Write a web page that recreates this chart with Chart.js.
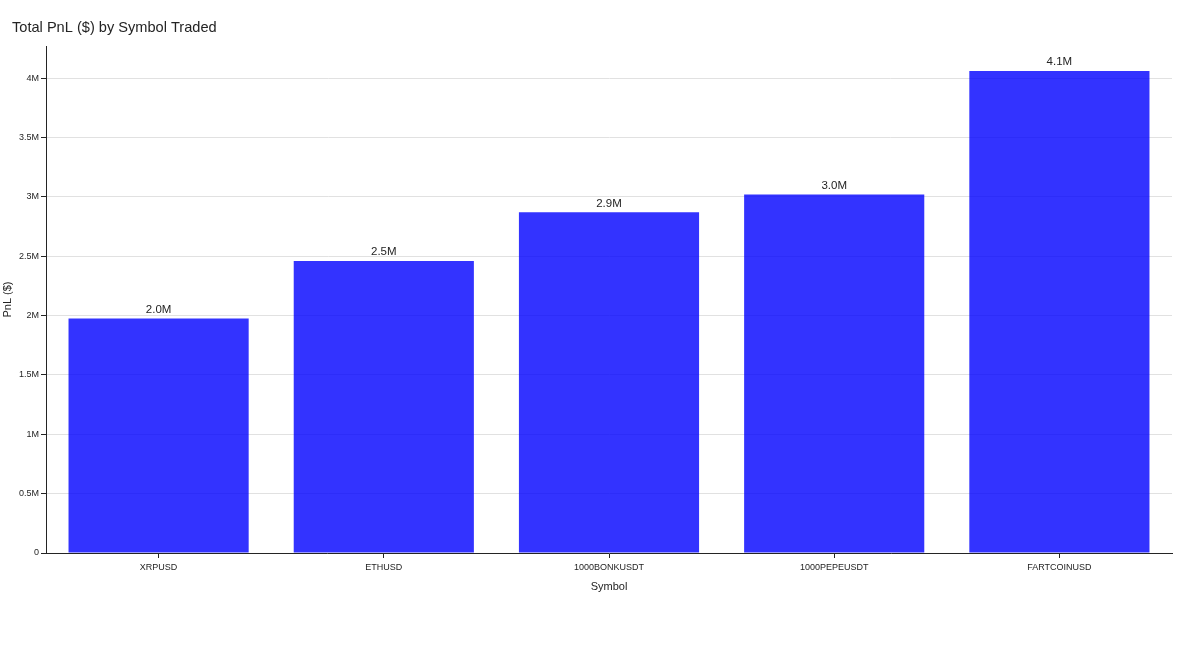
<!DOCTYPE html>
<html>
<head>
<meta charset="utf-8">
<script src="https://cdn.jsdelivr.net/npm/chart.js@4.4.1/dist/chart.umd.min.js"></script>
<style>
html,body{margin:0;padding:0;background:#fff;}
#wrap{width:1200px;height:646px;}
</style>
</head>
<body>
<div id="wrap"><canvas id="c" width="1200" height="646"></canvas></div>
<script>
const categories = ['XRPUSD', 'ETHUSD', '1000BONKUSDT', '1000PEPEUSDT', 'FARTCOINUSD'];
const pnlValues = [1975000, 2460000, 2870000, 3020000, 4060000];
const yTicks = [0, 500000, 1000000, 1500000, 2000000, 2500000, 3000000, 3500000, 4000000];
const yTickLabels = ['0', '0.5M', '1M', '1.5M', '2M', '2.5M', '3M', '3.5M', '4M'];
const yMax = 4270000;
const chartTitle = 'Total PnL ($) by Symbol Traded';
const xTitle = 'Symbol';
const yTitle = 'PnL ($)';

const FONT = '"Liberation Sans", Arial, Helvetica, sans-serif';
const TEXT = '#242424';

const titlePlugin = {
  id: 'leftTitle',
  afterDraw(chart) {
    const ctx = chart.ctx;
    ctx.save();
    ctx.font = '14.6px ' + FONT;
    ctx.fillStyle = TEXT;
    ctx.textAlign = 'left';
    ctx.textBaseline = 'middle';
    ctx.fillText(chartTitle, 12, 28);
    ctx.restore();
  }
};

const barLabelPlugin = {
  id: 'barLabels',
  afterDatasetsDraw(chart) {
    const ctx = chart.ctx;
    const meta = chart.getDatasetMeta(0);
    ctx.save();
    ctx.font = '11.5px ' + FONT;
    ctx.fillStyle = TEXT;
    ctx.textAlign = 'center';
    ctx.textBaseline = 'bottom';
    meta.data.forEach((el, i) => {
      const v = chart.data.datasets[0].data[i];
      ctx.fillText((v / 1e6).toFixed(1) + 'M', el.x, el.y - 3);
    });
    ctx.restore();
  }
};

new Chart(document.getElementById('c'), {
  type: 'bar',
  data: {
    labels: categories,
    datasets: [{
      data: pnlValues,
      backgroundColor: 'rgba(0,0,255,0.8)',
      borderWidth: 0,
      barPercentage: 0.8,
      categoryPercentage: 1.0
    }]
  },
  options: {
    responsive: false,
    animation: false,
    layout: { padding: { top: 46, right: 28, left: 0, bottom: 0 } },
    plugins: {
      legend: { display: false },
      title: { display: false },
      tooltip: { enabled: false }
    },
    scales: {
      x: {
        afterFit(scale) { scale.height = 93; },
        grid: { drawOnChartArea: false, offset: false, drawTicks: true, tickLength: 5, tickColor: '#242424' },
        border: { display: true, color: '#242424', width: 1 },
        ticks: { font: { family: FONT, size: 9 }, color: TEXT, padding: 4, maxRotation: 0, autoSkip: false },
        title: { display: true, text: xTitle, font: { family: FONT, size: 11 }, color: TEXT, padding: { top: 0, bottom: 52 } }
      },
      y: {
        min: 0,
        max: yMax,
        afterFit(scale) { scale.width = 46; },
        afterBuildTicks(scale) { scale.ticks = yTicks.map(v => ({ value: v })); },
        grid: { color: '#e1e1e1', lineWidth: 1, drawTicks: true, tickLength: 5, tickColor: '#242424' },
        border: { display: true, color: '#242424', width: 1 },
        ticks: {
          autoSkip: false,
          font: { family: FONT, size: 9 },
          color: TEXT,
          padding: 2,
          callback: (v, i) => yTickLabels[yTicks.indexOf(v)] ?? ''
        },
        title: { display: true, text: yTitle, font: { family: FONT, size: 11 }, color: TEXT, padding: { top: 1, bottom: 0 } }
      }
    }
  },
  plugins: [titlePlugin, barLabelPlugin]
});
</script>
</body>
</html>
